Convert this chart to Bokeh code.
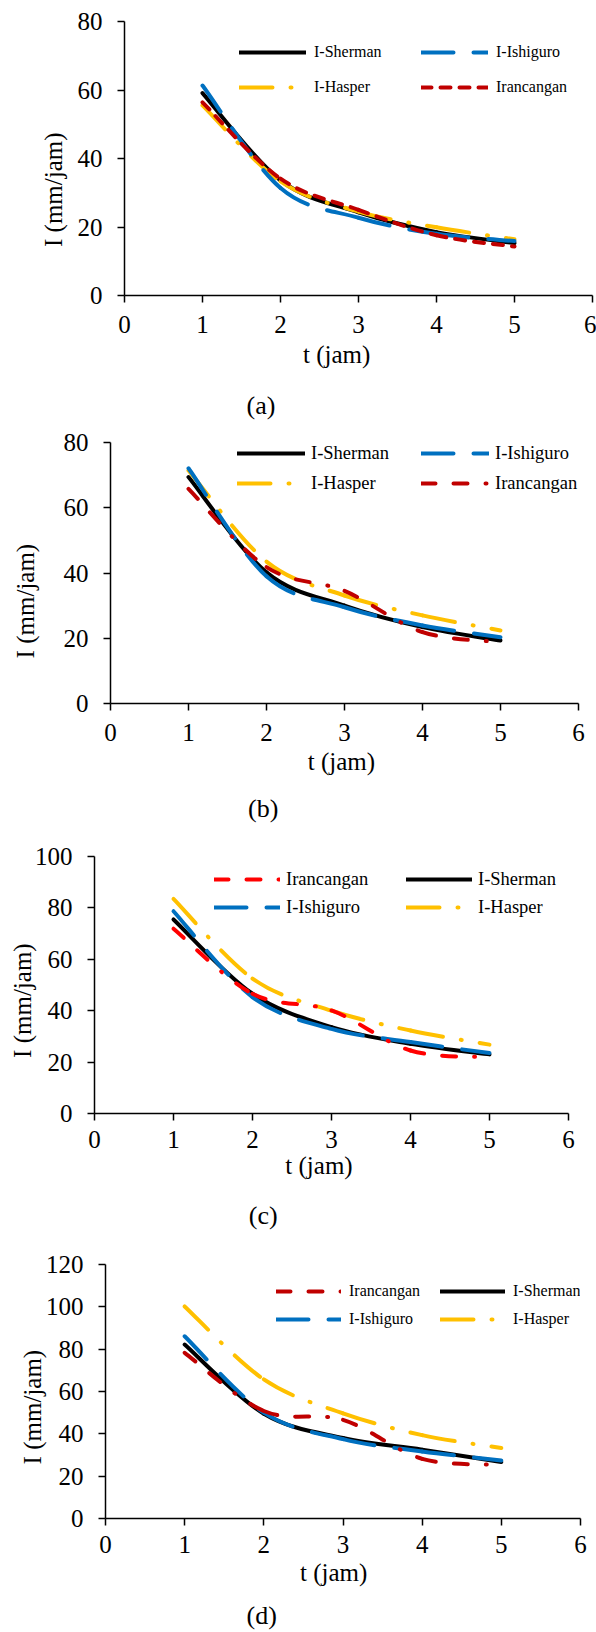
import math
from bokeh.plotting import figure
from bokeh.models import Range1d, FixedTicker, Legend, LegendItem, LinearAxis
from bokeh.layouts import column
from bokeh.embed import file_html
from bokeh.resources import INLINE

# ---------------- data ----------------
t = [1, 2, 3, 4, 5]
x_ticks = [0, 1, 2, 3, 4, 5, 6]

a_sherman = [59.1, 33.6, 24.3, 18.5, 15.3]
a_ishiguro = [61.3, 31.4, 22.7, 18.0, 15.9]
a_hasper = [55.5, 33.3, 24.5, 19.9, 16.4]
a_irancangan = [56.4, 34.1, 25.0, 17.6, 14.3]
a_yticks = [0, 20, 40, 60, 80]

b_sherman = [69.4, 40.2, 30.0, 23.4, 19.3]
b_ishiguro = [72.1, 39.0, 29.5, 23.9, 20.3]
b_hasper = [71.4, 43.5, 33.1, 27.0, 22.4]
b_irancangan = [65.8, 41.8, 34.5, 21.9, 18.8]
b_yticks = [0, 20, 40, 60, 80]

c_sherman = [75.5, 46.6, 33.6, 27.1, 23.0]
c_ishiguro = [78.7, 45.3, 32.9, 27.8, 23.5]
c_hasper = [83.5, 52.5, 40.0, 32.3, 26.8]
c_irancangan = [71.9, 46.6, 40.1, 24.5, 21.9]
c_yticks = [0, 20, 40, 60, 80, 100]

d_sherman = [82.2, 49.5, 38.0, 32.5, 26.7]
d_ishiguro = [86.1, 50.0, 37.5, 31.7, 27.4]
d_hasper = [100.2, 65.7, 49.7, 39.4, 33.3]
d_irancangan = [78.3, 50.8, 46.6, 28.2, 25.4]
d_yticks = [0, 20, 40, 60, 80, 100, 120]

y_title = "I (mm/jam)"
x_title = "t (jam)"

FONT = "Liberation Serif"
LW = 4
NB = "\u00a0"


def smooth_segments(xs, ys):
    """Bezier control points for an Excel-style smoothed line through the data points."""
    X = [xs[0]] + list(xs) + [xs[-1]]
    Y = [ys[0]] + list(ys) + [ys[-1]]
    out = dict(x0=[], y0=[], x1=[], y1=[], cx0=[], cy0=[], cx1=[], cy1=[])
    for i in range(len(xs) - 1):
        out["x0"].append(X[i + 1]); out["y0"].append(Y[i + 1])
        out["x1"].append(X[i + 2]); out["y1"].append(Y[i + 2])
        out["cx0"].append(X[i + 1] + (X[i + 2] - X[i]) / 6.0)
        out["cy0"].append(Y[i + 1] + (Y[i + 2] - Y[i]) / 6.0)
        out["cx1"].append(X[i + 2] - (X[i + 3] - X[i + 1]) / 6.0)
        out["cy1"].append(Y[i + 2] - (Y[i + 3] - Y[i + 1]) / 6.0)
    return out


STYLE = {
    "I-Sherman": dict(line_color="#000000", line_dash="solid"),
    "I-Ishiguro": dict(line_color="#0070C0", line_dash="32 20"),
    "I-Hasper": dict(line_color="#FFC000", line_dash="33 18 1 18"),
}


def make_panel(cfg, series, red_style, legend_cols):
    p = figure(width=596, height=cfg["h"], x_range=Range1d(0, 6), y_range=Range1d(0, cfg["ymax"]),
               output_backend="svg", toolbar_location=None,
               min_border_left=cfg["ml"], min_border_right=cfg["mr"],
               min_border_top=cfg["mt"], min_border_bottom=cfg["mb"])
    try:
        p.frame_align = False
    except Exception:
        pass
    p.outline_line_color = None
    p.xgrid.visible = False
    p.ygrid.visible = False
    p.background_fill_color = "white"
    p.border_fill_color = "white"
    p.xaxis.ticker = FixedTicker(ticks=x_ticks)
    p.yaxis.ticker = FixedTicker(ticks=cfg["yticks"])
    for ax in (p.xaxis[0], p.yaxis[0]):
        ax.axis_line_color = "black"
        ax.axis_line_width = 1.5
        ax.major_tick_line_color = "black"
        ax.major_tick_line_width = 1.5
        ax.major_tick_out = 7
        ax.major_tick_in = 0
        ax.minor_tick_out = 0
        ax.minor_tick_in = 0
        ax.major_label_text_font = FONT
        ax.major_label_text_font_size = "25px"
        ax.major_label_text_font_style = "normal"
        ax.major_label_text_color = "black"
        ax.axis_label_text_font = FONT
        ax.axis_label_text_font_size = "25px"
        ax.axis_label_text_font_style = "normal"
        ax.axis_label_text_color = "black"
    xa, ya = p.xaxis[0], p.yaxis[0]
    xa.major_label_standoff = cfg["xst"]
    ya.major_label_standoff = 15
    xa.axis_label = x_title + NB * cfg["xsp"]
    xa.axis_label_standoff = cfg["xals"]
    ya.axis_label = y_title + NB * cfg["ysp"]
    ya.axis_label_standoff = cfg["yals"]

    # caption "(a)" etc. as the label of a bare extra axis below the x axis
    cap = LinearAxis(ticker=FixedTicker(ticks=[]), axis_line_color=None, major_tick_line_color=None,
                     minor_tick_line_color=None, major_tick_out=0, major_tick_in=0,
                     minor_tick_out=0, minor_tick_in=0, major_label_standoff=0,
                     axis_label=cfg["caption"] + NB * cfg["csp"], axis_label_standoff=cfg["cals"],
                     axis_label_text_font=FONT, axis_label_text_font_size="26px",
                     axis_label_text_font_style="normal", axis_label_text_color="black")
    p.add_layout(cap, "below")

    styles = dict(STYLE)
    styles["Irancangan"] = red_style
    renderers = {}
    for name in ["I-Sherman", "I-Hasper", "I-Ishiguro", "Irancangan"]:
        seg = smooth_segments(t, series[name])
        renderers[name] = p.bezier(x0="x0", y0="y0", x1="x1", y1="y1", cx0="cx0", cy0="cy0",
                                   cx1="cx1", cy1="cy1", source=seg, line_width=LW,
                                   line_cap="round", line_join="round", **styles[name])

    for vx, names in zip(cfg["leg_x"], legend_cols):
        leg = Legend(items=[LegendItem(label=n, renderers=[renderers[n]]) for n in names],
                     location=(vx, cfg["leg_y"]), orientation="vertical",
                     background_fill_alpha=0, border_line_alpha=0, padding=0, margin=0,
                     spacing=cfg["leg_sp"], glyph_width=cfg["gw"], glyph_height=22, label_height=22,
                     label_standoff=cfg["ls"], label_text_font=FONT,
                     label_text_font_size=cfg["lfs"], label_text_color="black")
        p.add_layout(leg)
    return p


red_dark_dash = dict(line_color="#C00000", line_dash="10 9")
red_dark_ldd = dict(line_color="#C00000", line_dash="14 18 14 18 1 18")
red_bright_ldd = dict(line_color="#FF0000", line_dash="14 18 14 18 1 18")

cfg_a = dict(h=424, ml=124, mr=4, mt=21, mb=129, ymax=80, yticks=a_yticks,
             xst=13, xals=5, xsp=7, yals=8, ysp=10, cals=20, csp=30, caption="(a)",
             leg_x=[115, 297], leg_y=197, leg_sp=13, gw=67, ls=8, lfs="16px")
cfg_b = dict(h=408, ml=110, mr=18, mt=18, mb=129, ymax=80, yticks=b_yticks,
             xst=13, xals=4, xsp=1, yals=22, ysp=9, cals=16, csp=25, caption="(b)",
             leg_x=[127, 311], leg_y=209, leg_sp=8, gw=68, ls=6, lfs="18.5px")
cfg_c = dict(h=408, ml=94, mr=28, mt=24, mb=127, ymax=100, yticks=c_yticks,
             xst=10, xals=1, xsp=4, yals=-4, ysp=5, cals=19, csp=21, caption="(c)",
             leg_x=[120, 312], leg_y=195, leg_sp=6, gw=66, ls=6, lfs="18.5px")
cfg_d = dict(h=392, ml=105, mr=16, mt=24, mb=113, ymax=120, yticks=d_yticks,
             xst=10, xals=3, xsp=3, yals=-3, ysp=5, cals=12, csp=25, caption="(d)",
             leg_x=[171, 335], leg_y=188, leg_sp=6, gw=65, ls=8, lfs="16px")

cols_ab = [["I-Sherman", "I-Hasper"], ["I-Ishiguro", "Irancangan"]]
cols_cd = [["Irancangan", "I-Ishiguro"], ["I-Sherman", "I-Hasper"]]

pa = make_panel(cfg_a, {"I-Sherman": a_sherman, "I-Ishiguro": a_ishiguro,
                        "I-Hasper": a_hasper, "Irancangan": a_irancangan}, red_dark_dash, cols_ab)
pb = make_panel(cfg_b, {"I-Sherman": b_sherman, "I-Ishiguro": b_ishiguro,
                        "I-Hasper": b_hasper, "Irancangan": b_irancangan}, red_dark_ldd, cols_ab)
pc = make_panel(cfg_c, {"I-Sherman": c_sherman, "I-Ishiguro": c_ishiguro,
                        "I-Hasper": c_hasper, "Irancangan": c_irancangan}, red_bright_ldd, cols_cd)
pd_ = make_panel(cfg_d, {"I-Sherman": d_sherman, "I-Ishiguro": d_ishiguro,
                         "I-Hasper": d_hasper, "Irancangan": d_irancangan}, red_dark_ldd, cols_cd)

layout = column(pa, pb, pc, pd_, spacing=0)
open("out.html", "w").write(file_html(layout, INLINE))
